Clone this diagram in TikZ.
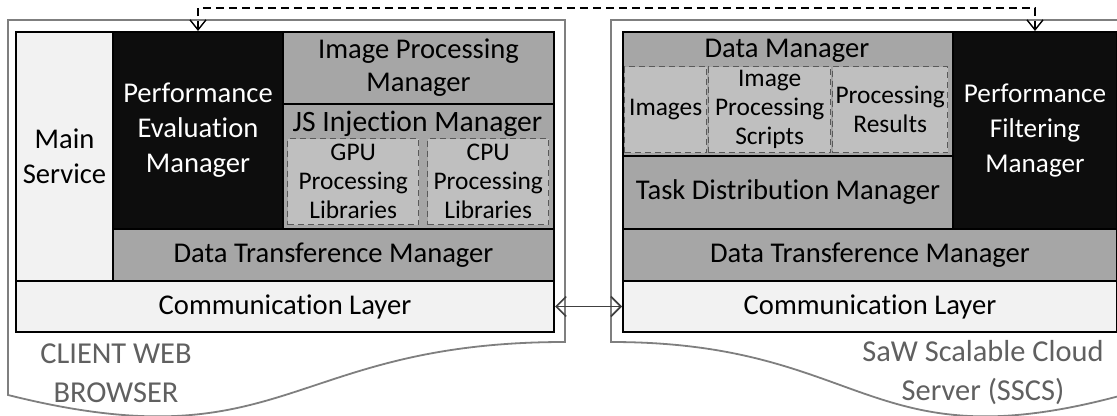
\documentclass[tikz,border=0pt]{standalone}
\usepackage{fontspec}
\setmainfont{Carlito}[Ligatures=NoCommon]
\usetikzlibrary{arrows.meta}
\definecolor{blk}{HTML}{0D0D0D}
\definecolor{gry}{HTML}{A6A6A6}
\definecolor{lgt}{HTML}{F2F2F2}
\definecolor{dsh}{HTML}{BFBFBF}
\definecolor{dshline}{HTML}{595959}
\definecolor{docline}{HTML}{7F7F7F}
\definecolor{lbl}{HTML}{606060}
\tikzset{
  bx/.style n args={2}{draw=black, line width=1pt, anchor=north west, inner sep=0pt,
    minimum width=#1*0.5pt, minimum height=#2*0.5pt, align=center,
    font=\fontsize{14.3}{17.5}\selectfont},
  blackbox/.style={fill=blk, text=white},
  graybox/.style={fill=gry},
  lightbox/.style={fill=lgt},
  dashbox/.style={fill=dsh, draw=dshline, dash pattern=on 3pt off 2pt, line width=0.7pt,
    font=\fontsize{12.7}{14.5}\selectfont},
  doc/.style={draw=docline, line width=0.9pt, fill=white},
  lbltext/.style={text=lbl, align=center, inner sep=0pt, font=\fontsize{15.2}{19.5}\selectfont},
  txt/.style={align=center, font=\fontsize{14.3}{17.5}\selectfont, inner sep=0pt},
}
\begin{document}
\begin{tikzpicture}[x=0.5pt,y=-0.5pt]
\useasboundingbox (0,0) rectangle (1117,416);
% document shapes
\draw[doc] (8,20) -- (565,20) -- (565,342) .. controls (286.5,342) and (286.5,464.6) .. (8,395) -- cycle;
\draw[doc] (611,20) -- (1123,20) -- (1123,395) .. controls (867,464.6) and (867,342) .. (611,342) -- cycle;
% left side
\node[bx={97}{249}, lightbox] (ms) at (15,31) {Main\\Service};
\node[bx={170}{197}, blackbox] (pem) at (112,31) {Performance\\Evaluation\\Manager};
\node[bx={271}{72}, graybox, font=\fontsize{14.3}{16.5}\selectfont] (ipm) at (282,31) {Image Processing\\Manager};
\node[bx={271}{125}, graybox] (jsm) at (282,103) {};
\node[txt, font=\fontsize{14.8}{17.5}\selectfont] (jst) at (417.5,124) {JS Injection Manager};
\node[bx={131}{86}, dashbox] (gpu) at (287,138) {GPU\\Processing\\Libraries};
\node[bx={121}{86}, dashbox] (cpu) at (427,138) {CPU\\Processing\\Libraries};
\node[bx={441}{52}, graybox] (dtl) at (112,228) {Data Transference Manager};
\node[bx={538}{51}, lightbox] (cl) at (15,280) {Communication Layer};
% right side
\node[bx={330}{124}, graybox] (dm) at (622,31) {};
\node[txt] (dmt) at (787,51) {Data Manager};
\node[bx={82}{86}, dashbox] (img) at (624,66) {Images};
\node[bx={122}{86}, dashbox] (ips) at (708,66) {Image\\Processing\\Scripts};
\node[bx={115}{86}, dashbox] (prs) at (832,66) {Processing\\Results};
\node[bx={164}{197}, blackbox, font=\fontsize{13.6}{17.5}\selectfont] (pfm) at (952,31) {Performance\\Filtering\\Manager};
\node[bx={330}{73}, graybox] (tdm) at (622,155) {Task Distribution Manager};
\node[bx={494}{52}, graybox] (dtr) at (622,228) {Data Transference Manager};
\node[bx={494}{51}, lightbox] (clr) at (622,280) {Communication Layer};
% labels
\node[lbltext] (lb1) at (116,373) {CLIENT WEB\\BROWSER};
\node[lbltext] (lb2) at (983,373) {SaW Scalable Cloud\\Server (SSCS)};
% connectors
\draw[draw=black!75, line width=0.8pt, {Straight Barb[length=5pt,width=10pt]}-{Straight Barb[length=5pt,width=10pt]}] (cl.east) -- (clr.west);
\coordinate (top) at (0,8);
\draw[dash pattern=on 4pt off 2.5pt, line width=0.7pt, {Straight Barb[length=5pt,width=8pt]}-{Straight Barb[length=5pt,width=8pt]}]
  (pem.north) -- (pem.north |- top) -| (pfm.north);
\end{tikzpicture}
\end{document}
